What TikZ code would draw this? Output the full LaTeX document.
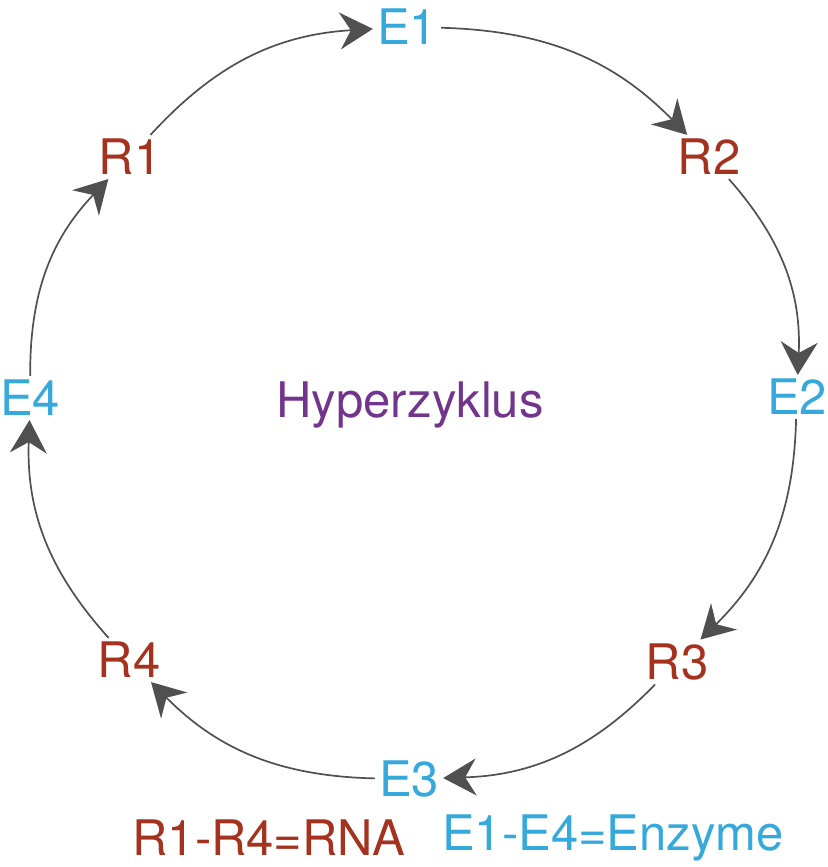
\documentclass[tikz,border=0pt]{standalone}
\usepackage{fontspec}
\setmainfont{TeX Gyre Heros}
\usetikzlibrary{arrows.meta}
\definecolor{eblue}{RGB}{54,169,220}
\definecolor{rred}{RGB}{164,50,31}
\definecolor{hpurple}{RGB}{114,52,140}
\definecolor{lgray}{RGB}{80,80,80}
\begin{document}
\begin{tikzpicture}[x=1pt,y=-1pt,
  lbl/.style={inner sep=4pt,font=\fontsize{49}{49}\selectfont},
  enz/.style={lbl,text=eblue},
  rna/.style={lbl,text=rred},
  link/.style={draw=lgray,line width=1.7pt,-{Stealth[length=33pt,width=37pt,inset=11pt]},bend left=22}]
\useasboundingbox (0,0) rectangle (827,867);
\node[enz] (E1) at (407,27) {E1};
\node[rna] (R2) at (709,157) {R2};
\node[enz] (E2) at (797,397) {E2};
\node[rna] (R3) at (677,662) {R3};
\node[enz] (E3) at (409,779) {E3};
\node[rna] (R4) at (129,660) {R4};
\node[enz] (E4) at (30,398) {E4};
\node[rna] (R1) at (130,157) {R1};
\node[lbl,text=hpurple] (H) at (410,405) {Hyperzyklus};
\node[rna] (L1) at (269,838) {R1-R4=RNA};
\node[enz] (L2) at (613,838) {E1-E4=Enzyme};
\draw[link] (E1) to (R2);
\draw[link] (R2) to (E2);
\draw[link] (E2) to (R3);
\draw[link] (R3) to (E3);
\draw[link] (E3) to (R4);
\draw[link] (R4) to (E4);
\draw[link] (E4) to (R1);
\draw[link] (R1) to (E1);
\end{tikzpicture}
\end{document}
